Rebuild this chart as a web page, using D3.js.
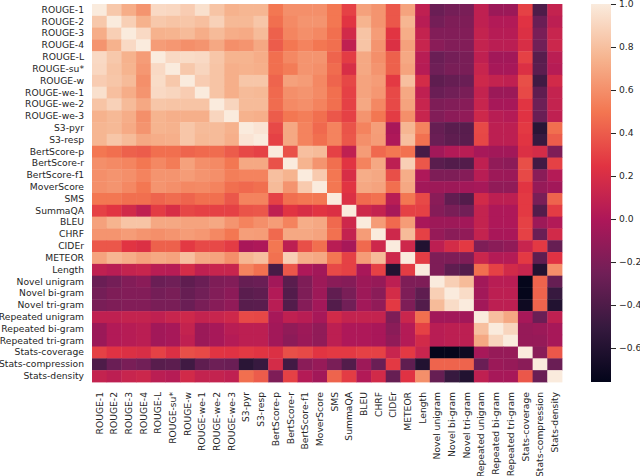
<!DOCTYPE html>
<html>

<head>
  <meta charset="utf-8">
  <title>metric correlation heatmap</title>
  <style>
    html, body {
      margin: 0;
      padding: 0;
      background: #fff;
    }

    svg text {
      font-family: "DejaVu Sans", sans-serif;
      font-size: 9.2px;
      fill: #262626;
    }

    .axis path {
      stroke: none;
      fill: none;
    }
  </style>
  <script src="https://cdn.jsdelivr.net/npm/d3@7"></script>
</head>

<body>
<script>
  var labels = ["ROUGE-1", "ROUGE-2", "ROUGE-3", "ROUGE-4", "ROUGE-L", "ROUGE-su*", "ROUGE-w", "ROUGE-we-1",
    "ROUGE-we-2", "ROUGE-we-3", "S3-pyr", "S3-resp", "BertScore-p", "BertScore-r", "BertScore-f1", "MoverScore",
    "SMS", "SummaQA", "BLEU", "CHRF", "CIDEr", "METEOR", "Length", "Novel unigram", "Novel bi-gram", "Novel tri-gram",
    "Repeated unigram", "Repeated bi-gram", "Repeated tri-gram", "Stats-coverage", "Stats-compression", "Stats-density"];

  // lower triangle of the correlation table
  var correlations = [
    [1],
    [.84, 1],
    [.72, .87, 1],
    [.62, .74, .92, 1],
    [.92, .84, .74, .65, 1],
    [.91, .82, .75, .63, .92, 1],
    [.86, .83, .78, .6, .93, .84, 1],
    [.95, .8, .72, .62, .92, .9, .86, 1],
    [.82, .88, .78, .7, .83, .82, .82, .82, 1],
    [.74, .77, .72, .6, .75, .73, .73, .73, .9, 1],
    [.76, .77, .71, .62, .75, .74, .83, .78, .78, .74, 1],
    [.76, .83, .78, .7, .72, .73, .83, .77, .78, .73, .97, 1],
    [.5, .47, .42, .4, .47, .47, .43, .45, .46, .4, .33, .3, 1],
    [.6, .58, .56, .5, .57, .52, .67, .6, .58, .5, .7, .7, .36, 1],
    [.6, .62, .6, .55, .62, .62, .65, .62, .6, .53, .55, .55, .8, .75, 1],
    [.6, .62, .57, .5, .62, .6, .57, .58, .55, .47, .45, .47, .78, .62, .85, 1],
    [.5, .5, .47, .47, .43, .46, .43, .47, .47, .38, .55, .55, .3, .47, .5, .5, 1],
    [.3, .25, .17, .08, .28, .2, .32, .3, .3, .3, .37, .38, .08, .25, .2, .25, .22, 1],
    [.67, .75, .82, .82, .7, .7, .68, .68, .7, .62, .55, .6, .65, .55, .72, .7, .45, .15, 1],
    [.62, .62, .65, .62, .6, .62, .65, .63, .57, .5, .66, .65, .45, .7, .7, .68, .48, .1, .65, 1],
    [.38, .38, .25, .22, .42, .42, .27, .33, .33, .28, -.02, 0, .5, .07, .35, .47, .05, -.03, .45, .15, 1],
    [.68, .76, .72, .67, .7, .68, .8, .7, .68, .6, .76, .8, .48, .87, .72, .7, .5, .3, .65, .78, .15, 1],
    [.08, .05, .1, .12, .05, .04, .18, .08, .12, .12, .55, .48, -.43, .38, 0, -.05, .33, .3, -.02, .3, -.6, .28, 1],
    [-.28, -.24, -.18, -.15, -.28, -.26, -.33, -.28, -.2, -.18, -.3, -.28, -.05, -.35, -.2, -.07, -.15, -.17, -.07, -.1, .07, -.2, -.2, 1],
    [-.24, -.2, -.18, -.18, -.24, -.22, -.3, -.25, -.18, -.14, -.35, -.33, .02, -.38, -.2, -.07, -.32, -.22, -.07, -.15, .18, -.2, -.33, .87, 1],
    [-.22, -.2, -.18, -.18, -.22, -.22, -.28, -.22, -.16, -.12, -.36, -.35, .05, -.38, -.17, -.05, -.38, -.25, -.05, -.12, .27, -.2, -.38, .78, .93, 1],
    [.08, .08, .1, .1, .08, .12, .15, .1, .12, .15, .33, .32, -.03, .08, .05, -.03, .17, .1, .1, .1, -.2, .13, .47, -.05, -.05, -.05, 1],
    [-.08, .02, .04, .06, -.05, -.03, .1, -.08, -.03, .05, .07, .07, -.05, -.12, -.07, -.12, .07, 0, 0, -.02, -.15, .03, .3, .05, .07, .07, .8, 1],
    [-.08, .02, .04, .06, -.05, -.03, .08, -.08, -.03, .03, .07, .07, -.05, -.14, -.08, -.12, .07, 0, 0, -.02, -.12, .03, .17, .05, .07, .07, .7, .9, 1],
    [.3, .24, .22, .2, .3, .22, .35, .33, .25, .24, .27, .25, .22, .35, .33, .25, .27, .27, .3, .3, .12, .27, .12, -.75, -.75, -.7, -.03, -.1, -.1, 1],
    [-.4, -.28, -.22, -.25, -.36, -.34, -.46, -.33, -.27, -.28, -.56, -.5, .18, -.45, -.15, -.1, -.22, -.38, -.07, -.28, .27, -.33, -.6, .43, .43, .43, -.28, -.08, -.1, -.15, 1],
    [.1, .07, .12, .14, .06, .04, .17, .1, .1, .08, .47, .4, -.2, .3, .03, -.05, .43, .28, .02, .17, -.3, .24, .6, -.3, -.5, -.6, .08, -.03, -.03, .38, -.28, 1]
  ];

  var colorTicks = [-.6, -.4, -.2, 0, .2, .4, .6, .8, 1];
  var valueRange = [-.758, 1];
  var rocket = ["#03051a", "#35193e", "#701f57", "#ad1759", "#e13342", "#f37651", "#f6b48f", "#faebdd"];

  var margin = { top: 4, left: 92 },
    width = 470,
    height = 378;

  var chart = d3.select('body')
    .append('svg')
    .attr('width', 640)
    .attr('height', 476)
    .style('display', 'block');

  var color = d3.scaleLinear()
    .domain(rocket.map(function(d, i) {
      return valueRange[0] + (valueRange[1] - valueRange[0]) * i / (rocket.length - 1);
    }))
    .range(rocket);

  var x = d3.scaleBand().domain(labels).range([0, width]);
  var y = d3.scaleBand().domain(labels).range([0, height]);

  // the table is symmetric, so each stored cell gives both sides of the diagonal
  var cells = [];
  correlations.forEach(function(row, i) {
    row.forEach(function(v, j) {
      cells.push({ a: labels[i], b: labels[j], v: v });
      if (i !== j) cells.push({ a: labels[j], b: labels[i], v: v });
    });
  });

  var main = chart.append('g')
    .attr('transform', 'translate(' + margin.left + ',' + margin.top + ')')
    .attr('class', 'main');

  main.append('g')
    .selectAll('rect')
    .data(cells)
    .enter()
    .append('rect')
    .attr('x', function(d) { return x(d.b); })
    .attr('y', function(d) { return y(d.a); })
    .attr('width', x.bandwidth() + .4)
    .attr('height', y.bandwidth() + .4)
    .attr('fill', function(d) { return color(d.v); });

  var xAxis = main.append('g')
    .attr('class', 'axis')
    .attr('transform', 'translate(0,' + height + ')')
    .call(d3.axisBottom(x).tickSize(0).tickPadding(0));
  xAxis.selectAll('text')
    .attr('transform', 'rotate(-90)')
    .attr('text-anchor', 'end')
    .attr('x', -10)
    .attr('y', 0)
    .attr('dy', '.35em');

  main.append('g')
    .attr('class', 'axis')
    .call(d3.axisLeft(y).tickSize(0).tickPadding(8));

  // COLORBAR
  var gradient = chart.append('defs')
    .append('linearGradient')
    .attr('id', 'rocket')
    .attr('x1', 0).attr('y1', 1).attr('x2', 0).attr('y2', 0);
  gradient.selectAll('stop')
    .data(rocket)
    .enter()
    .append('stop')
    .attr('offset', function(d, i) { return i / (rocket.length - 1); })
    .attr('stop-color', function(d) { return d; });

  var barScale = d3.scaleLinear().domain(valueRange).range([height, 0]);

  var bar = chart.append('g')
    .attr('transform', 'translate(591,' + margin.top + ')');
  bar.append('rect')
    .attr('width', 20)
    .attr('height', height)
    .attr('fill', 'url(#rocket)');

  var barAxis = bar.append('g')
    .attr('class', 'axis')
    .attr('transform', 'translate(20,0)')
    .call(d3.axisRight(barScale)
      .tickValues(colorTicks)
      .tickSize(5)
      .tickPadding(3)
      .tickFormat(d3.format('.1f')));
  barAxis.selectAll('line')
    .attr('stroke', '#262626');
</script>
</body>

</html>
